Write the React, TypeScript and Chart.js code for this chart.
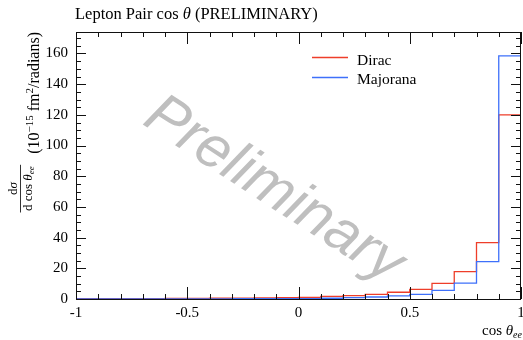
import React, { useEffect, useRef } from 'react';
import { Chart, registerables } from 'chart.js';

Chart.register(...registerables);

// ---- data ----
const binEdges = [-1, -0.9, -0.8, -0.7, -0.6, -0.5, -0.4, -0.3, -0.2, -0.1, 0, 0.1, 0.2, 0.3, 0.4, 0.5, 0.6, 0.7, 0.8, 0.9, 1];
const diracValues = [0.3, 0.3, 0.3, 0.3, 0.4, 0.4, 0.5, 0.6, 0.7, 0.9, 1.1, 1.7, 2.2, 3.0, 4.4, 6.3, 10.2, 17.8, 36.7, 120];
const majoranaValues = [0.1, 0.1, 0.1, 0.1, 0.1, 0.1, 0.1, 0.2, 0.2, 0.2, 0.3, 0.5, 0.9, 1.3, 2.0, 3.0, 5.6, 10.3, 24.4, 158.5];
const seriesNames = ['Dirac', 'Majorana'];
const xTickValues = [-1, -0.5, 0, 0.5, 1];
const xTickLabels = ['-1', '-0.5', '0', '0.5', '1'];
const yTickValues = [0, 20, 40, 60, 80, 100, 120, 140, 160];
const yTickLabels = ['0', '20', '40', '60', '80', '100', '120', '140', '160'];

const RED = 'rgb(238,62,42)';
const BLUE = 'rgb(62,112,250)';
const SERIF = '"Liberation Serif", "DejaVu Serif", serif';

type Run = { t: string; f: string; dy?: number };

function runsWidth(ctx: CanvasRenderingContext2D, runs: Run[]) {
  let w = 0;
  for (const r of runs) {
    ctx.font = r.f;
    w += ctx.measureText(r.t).width;
  }
  return w;
}

function drawRuns(ctx: CanvasRenderingContext2D, runs: Run[], x: number, y: number) {
  let cx = x;
  for (const r of runs) {
    ctx.font = r.f;
    ctx.fillText(r.t, cx, y + (r.dy || 0));
    cx += ctx.measureText(r.t).width;
  }
  return cx - x;
}

function stepData(values: number[]) {
  const pts = values.map((v, i) => ({ x: binEdges[i], y: v }));
  pts.push({ x: binEdges[binEdges.length - 1], y: values[values.length - 1] });
  return pts;
}

const watermarkPlugin = {
  id: 'watermark',
  beforeDatasetsDraw(chart: any) {
    const ctx = chart.ctx as CanvasRenderingContext2D;
    ctx.save();
    ctx.translate(274, 190);
    ctx.rotate((33 * Math.PI) / 180);
    ctx.font = 'italic 59px "Liberation Sans", Arial, sans-serif';
    ctx.fillStyle = '#bfbfbf';
    ctx.textAlign = 'center';
    ctx.textBaseline = 'middle';
    ctx.fillText('Preliminary', 0, 0);
    ctx.restore();
  },
};

const decorPlugin = {
  id: 'decor',
  afterDraw(chart: any) {
    const ctx = chart.ctx as CanvasRenderingContext2D;
    const a = chart.chartArea;
    const xs = chart.scales.x;
    const ys = chart.scales.y;
    ctx.save();
    ctx.strokeStyle = '#111';
    ctx.lineWidth = 1;
    // frame
    ctx.strokeRect(Math.round(a.left) + 0.5, Math.round(a.top) + 0.5, Math.round(a.right - a.left) - 1, Math.round(a.bottom - a.top));
    ctx.beginPath();
    // x ticks (bottom + top), inward
    for (let i = 0; i <= 20; i++) {
      const v = -1 + i * 0.1;
      const major = i % 5 === 0;
      const len = major ? 12 : 5;
      const px = Math.round(xs.getPixelForValue(v)) + 0.5;
      ctx.moveTo(px, a.bottom);
      ctx.lineTo(px, a.bottom - len);
      ctx.moveTo(px, a.top);
      ctx.lineTo(px, a.top + len);
    }
    // y ticks (left + right), inward
    for (let v = 0; v <= 174; v += 5) {
      const major = v % 20 === 0;
      const len = major ? 10 : 5;
      const py = Math.round(ys.getPixelForValue(v)) + 0.5;
      ctx.moveTo(a.left, py);
      ctx.lineTo(a.left + len, py);
      ctx.moveTo(a.right, py);
      ctx.lineTo(a.right - len, py);
    }
    ctx.stroke();

    ctx.fillStyle = '#000';
    ctx.textBaseline = 'alphabetic';
    ctx.textAlign = 'left';

    // title
    drawRuns(ctx, [
      { t: 'Lepton Pair cos ', f: `16.5px ${SERIF}` },
      { t: 'θ', f: `italic 16.5px ${SERIF}` },
      { t: ' (PRELIMINARY)', f: `16.5px ${SERIF}` },
    ], 75, 19);

    // legend
    const legendY = [57, 77];
    const legendBase = [65, 84];
    const colors = [RED, BLUE];
    for (let i = 0; i < seriesNames.length; i++) {
      ctx.strokeStyle = colors[i];
      ctx.lineWidth = 1.5;
      ctx.beginPath();
      ctx.moveTo(312, legendY[i] + 0.5);
      ctx.lineTo(348, legendY[i] + 0.5);
      ctx.stroke();
      ctx.font = `15.5px ${SERIF}`;
      ctx.fillStyle = '#000';
      ctx.fillText(seriesNames[i], 357, legendBase[i]);
    }

    // x axis label
    const xl: Run[] = [
      { t: 'cos ', f: `15px ${SERIF}` },
      { t: 'θ', f: `italic 15px ${SERIF}` },
      { t: 'ee', f: `italic 10px ${SERIF}`, dy: 3 },
    ];
    const xw = runsWidth(ctx, xl);
    drawRuns(ctx, xl, a.right + 1 - xw, 335);

    // y axis label (rotated)
    ctx.save();
    ctx.rotate(-Math.PI / 2);
    const main: Run[] = [
      { t: '(10', f: `16px ${SERIF}` },
      { t: '−15', f: `11px ${SERIF}`, dy: -6 },
      { t: ' fm', f: `16px ${SERIF}` },
      { t: '2', f: `11px ${SERIF}`, dy: -6 },
      { t: '/radians)', f: `16px ${SERIF}` },
    ];
    const mw = runsWidth(ctx, main);
    const mainStart = -a.top - mw;
    drawRuns(ctx, main, mainStart, 39);
    const num: Run[] = [
      { t: 'd', f: `13px ${SERIF}` },
      { t: 'σ', f: `italic 13px ${SERIF}` },
    ];
    const den: Run[] = [
      { t: 'd cos ', f: `13px ${SERIF}` },
      { t: 'θ', f: `italic 13px ${SERIF}` },
      { t: 'ee', f: `italic 9px ${SERIF}`, dy: 2 },
    ];
    const nw = runsWidth(ctx, num);
    const dw = runsWidth(ctx, den);
    const fw = Math.max(nw, dw) + 3;
    const fEnd = mainStart - 11;
    const fStart = fEnd - fw;
    ctx.strokeStyle = '#000';
    ctx.lineWidth = 0.8;
    ctx.beginPath();
    ctx.moveTo(fStart, 20.5);
    ctx.lineTo(fEnd, 20.5);
    ctx.stroke();
    drawRuns(ctx, num, fStart + (fw - nw) / 2, 17);
    drawRuns(ctx, den, fStart + (fw - dw) / 2, 32);
    ctx.restore();

    ctx.restore();
  },
};

export default function App() {
  const ref = useRef<HTMLCanvasElement | null>(null);
  useEffect(() => {
    if (!ref.current) return;
    const chart = new Chart(ref.current, {
      type: 'line',
      data: {
        datasets: [
          {
            label: seriesNames[1],
            data: stepData(majoranaValues),
            borderColor: BLUE,
            borderWidth: 1.3,
            pointRadius: 0,
            stepped: 'before',
            fill: false,
          },
          {
            label: seriesNames[0],
            data: stepData(diracValues),
            borderColor: RED,
            borderWidth: 1.3,
            pointRadius: 0,
            stepped: 'before',
            fill: false,
          },
        ],
      },
      options: {
        responsive: false,
        animation: false,
        layout: { padding: { left: 0, right: 2, top: 32, bottom: 0 } },
        plugins: {
          legend: { display: false },
          tooltip: { enabled: false },
          title: { display: false },
        },
        scales: {
          x: {
            type: 'linear',
            min: -1,
            max: 1,
            grid: { display: false, drawTicks: false, tickLength: 0 },
            border: { display: false },
            afterBuildTicks: (s: any) => {
              s.ticks = xTickValues.map((v) => ({ value: v }));
            },
            afterFit: (s: any) => {
              s.height = 41;
              s.paddingLeft = 0;
              s.paddingRight = 0;
            },
            ticks: {
              autoSkip: false,
              maxRotation: 0,
              padding: 5,
              color: '#000',
              font: { family: SERIF, size: 15 },
              callback: (v: any) => {
                const i = xTickValues.indexOf(Number(v));
                return i >= 0 ? xTickLabels[i] : '';
              },
            },
          },
          y: {
            type: 'linear',
            min: 0,
            max: 174,
            grid: { display: false, drawTicks: false, tickLength: 0 },
            border: { display: false },
            afterBuildTicks: (s: any) => {
              s.ticks = yTickValues.map((v) => ({ value: v }));
            },
            afterFit: (s: any) => {
              s.width = 76;
              s.paddingTop = 0;
              s.paddingBottom = 0;
            },
            ticks: {
              autoSkip: false,
              padding: 8,
              color: '#000',
              font: { family: SERIF, size: 15 },
              callback: (v: any) => {
                const i = yTickValues.indexOf(Number(v));
                return i >= 0 ? yTickLabels[i] : '';
              },
            },
          },
        },
      },
      plugins: [watermarkPlugin, decorPlugin],
    } as any);
    return () => chart.destroy();
  }, []);

  return (
    <div style={{ position: 'fixed', left: 0, top: 0, width: 523, height: 340, background: '#fff' }}>
      <canvas ref={ref} width={523} height={340} style={{ display: 'block' }} />
    </div>
  );
}
